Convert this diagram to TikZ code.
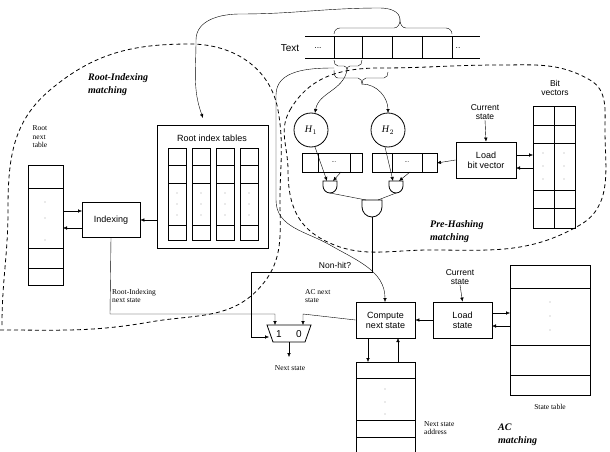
\documentclass[tikz,border=0pt]{standalone}
\usepackage{fontspec}
\setmainfont{Liberation Serif}
\setsansfont{Liberation Sans}
\usetikzlibrary{arrows.meta}
\begin{document}
\begin{tikzpicture}[x=1pt,y=-1pt,>={Latex[length=4pt,width=3.5pt]},
 box/.style={draw,thick,inner sep=0pt,font=\sffamily\fontsize{9}{10}\selectfont,align=center},
 sl/.style={font=\fontsize{7.5}{8.5}\selectfont,align=left,inner sep=0pt},
 ss/.style={font=\sffamily\fontsize{8.5}{9.5}\selectfont,align=center,inner sep=0pt},
 bl/.style={font=\bfseries\itshape\fontsize{10}{13}\selectfont,align=left,inner sep=0pt},
 dsh/.style={dashed,thick,dash pattern=on 4pt off 3pt},
 tb/.style={draw,thick}]
\useasboundingbox (0,0) rectangle (610,452);
% Text strip
\draw[thick] (305,36) -- (480,36) (305,58) -- (480,58);
\foreach \x in {334,362,392,422,452} \draw[thick] (\x,36) -- (\x,58);
\node[ss,font=\sffamily\fontsize{10}{11}\selectfont] (txt) at (290,48) {Text};
\node[ss] at (318,48) {...};
\node[ss] at (458,48) {..};
% braces
\draw (334,34) to[out=90,in=180] (340,28) -- (394,28) to[out=0,in=-90] (400,20) to[out=-90,in=180] (406,28) -- (446,28) to[out=0,in=90] (452,34);
\draw (334,60) to[out=-90,in=180] (338,66) -- (344,66) to[out=0,in=90] (347,70) to[out=90,in=180] (350,66) -- (358,66) to[out=0,in=-90] (362,60);
\draw (334,70) to[out=-90,in=180] (338,78) -- (358,78) to[out=0,in=90] (362,84) to[out=90,in=180] (366,78) -- (384,78) to[out=0,in=-90] (388,72);
% big curve to root index tables
\coordinate (tb1) at (400,20);
\draw[->] (tb1) to[out=90,in=0] (380,8) to[out=180,in=0] (240,14) to[out=180,in=90] (196,40) to[out=-90,in=110] (203,118);
% circles
\node[draw,thick,circle,minimum size=34pt,inner sep=0pt] (h1) at (311,130) {\textit{H}$_1$};
\node[draw,thick,circle,minimum size=34pt,inner sep=0pt] (h2) at (388,130) {\textit{H}$_2$};
\draw[->] (347,70) to[out=-100,in=80] (315,113);
\draw[->] (362,84) to[out=0,in=90] (388,113);
% registers
\draw[thick] (302,153) rectangle (362,172) (318,153) -- (318,172) (350,153) -- (350,172);
\draw[thick] (372,153) rectangle (437,172) (392,153) -- (392,172) (422,153) -- (422,172);
\node[ss,font=\sffamily\fontsize{6}{7}\selectfont] at (334,162) {...};
\node[ss,font=\sffamily\fontsize{6}{7}\selectfont] at (407,162) {...};
\coordinate (reg2) at (437,163);
% gates
\foreach \n/\x/\y/\w/\h in {g1/330/181/7/12, g2/396/181/7/12, g3/372/200/10/17}{
 \draw[thick] (\x-\w,\y) -- (\x+\w,\y) -- (\x+\w,\y+\h*0.4) to[out=-90,in=0] (\x,\y+\h) to[out=180,in=-90] (\x-\w,\y+\h*0.4) -- cycle;
 \coordinate (\n) at (\x,\y+\h);}
\draw[->] (315,147) -- (327,181);
\draw[->] (341,172) -- (333,181);
\draw[->] (385,147) -- (393,181);
\draw[->] (410,172) -- (399,181);
\draw (g1) -- (366,200);
\draw (g2) -- (378,200);
% Load bit vector
\node[box,minimum width=60pt,minimum height=36pt] (lbv) at (486,160) {Load\\bit vector};
\node[ss] (cs1) at (485,112) {Current\\state};
\draw[->] (cs1.south) -- (lbv.north);
\draw[->] (lbv.west) -- (reg2);
% bit vectors table
\draw[thick] (533,106) rectangle (575,228) (554,106) -- (554,228);
\foreach \y in {125,143,190,208} \draw[thick] (533,\y) -- (575,\y);
\foreach \x in {543,564} \foreach \y in {153,166,179} \fill (\x,\y) circle (0.4pt);
\node[ss] at (555,88) {Bit\\vectors};
\draw[->] (516,155) -- (533,155);
\draw[->] (533,168) -- (516,168);
% root index tables
\node[draw,thick,minimum width=111pt,minimum height=123pt,inner sep=0pt] (rit) at (212.5,186.5) {};
\node[ss,font=\sffamily\fontsize{9}{10}\selectfont] at (212,138) {Root index tables};
\foreach \x in {168,192,216,240}{
 \draw[thick] (\x,148) rectangle (\x+18,240);
 \foreach \y in {165,183,225} \draw[thick] (\x,\y) -- (\x+18,\y);
 \foreach \y in {193,204,215} \fill (\x+9,\y) circle (0.4pt);}
% Indexing
\node[box,minimum width=58pt,minimum height=35pt] (idx) at (111,220) {Indexing};
\draw[->] (157,220) -- (idx.east);
% root next table
\draw[thick] (28,165) rectangle (63,285);
\foreach \y in {188,248,268} \draw[thick] (28,\y) -- (63,\y);
\foreach \y in {202,218,240} \fill (45,\y) circle (0.4pt);
\node[sl] at (40,137) {Root\\next\\table};
\draw[->] (63,211) -- (82,211);
\draw[->] (82,228) -- (63,228);
% mux
\draw[thick] (267,325) -- (311,325) -- (305,342) -- (273,342) -- cycle;
\node[ss,font=\sffamily\fontsize{10}{11}\selectfont] at (279,334) {1};
\node[ss,font=\sffamily\fontsize{10}{11}\selectfont] at (299,334) {0};
\coordinate (mux1) at (275,325);
\coordinate (mux0) at (303,325);
\coordinate (muxl) at (269,337);
\draw[->] (idx.south) -- (110,314) -- (275,314) -- (mux1);
\node[sl,anchor=west] at (112,296) {Root-Indexing\\next state};
\node[sl,anchor=west] at (305,296) {AC next\\state};
\draw[->] (g3) -- (372,272) -- (251,272) -- (251,337) -- (muxl);
\node[ss] at (335,265) {Non-hit?};
\draw[->] (289,342) -- (289,357);
\node[sl] at (290,368) {Next state};
% compute / load state
\node[box,minimum width=59pt,minimum height=36pt] (cns) at (385.5,320) {Compute\\next state};
\node[box,minimum width=59pt,minimum height=36pt] (ls) at (462.5,320) {Load\\state};
\draw[->] (cns.west) -- (303,314) -- (mux0);
\draw[->] (ls.west) -- (cns.east);
\node[ss] (cs2) at (460,277) {Current\\state};
\draw[->] (cs2.south) -- (ls.north);
% curve to compute
\draw[->] (334,68) to[out=180,in=90] (276,95) -- (276,200) to[out=-90,in=150] (330,245) to[out=-30,in=90] (385,302);
% state table
\draw[thick] (510,265) rectangle (590,395);
\foreach \y in {288,345,375} \draw[thick] (510,\y) -- (590,\y);
\foreach \y in {302,316,330} \fill (550,\y) circle (0.4pt);
\node[sl] at (550,407) {State table};
\draw[->] (492,313) -- (510,313);
\draw[->] (510,326) -- (492,326);
% next state address
\draw[thick] (356,362) rectangle (415,460);
\foreach \y in {378,420,437} \draw[thick] (356,\y) -- (415,\y);
\foreach \y in {389,402,414} \fill (385,\y) circle (0.4pt);
\draw[->] (368,338) -- (368,362);
\draw[->] (398,362) -- (398,338);
\node[sl,anchor=west] at (424,428) {Next state\\address};
\node[bl,anchor=west] at (498,435) {AC\\matching};
% dashed regions
\draw[dsh] (0,330) to[out=0,in=190] (150,322) to[out=10,in=230] (262,285) to[out=50,in=-90] (280,200) to[out=90,in=-80] (278,110) to[out=100,in=0] (190,44) to[out=180,in=40] (50,90) to[out=220,in=90] (8,210) to[out=-90,in=90] (2,325);
\draw[dsh] (290,110) to[out=60,in=180] (380,68) to[out=0,in=180] (500,65) to[out=0,in=150] (590,80) to[out=-30,in=90] (605,130) to[out=-90,in=30] (580,225) to[out=210,in=0] (430,250) to[out=180,in=-30] (320,238) to[out=150,in=-90] (288,170) to[out=90,in=240] cycle;
\node[bl,anchor=west] at (88,85) {Root-Indexing\\matching};
\node[bl,anchor=west] at (430,232) {Pre-Hashing\\matching};
\end{tikzpicture}
\end{document}
